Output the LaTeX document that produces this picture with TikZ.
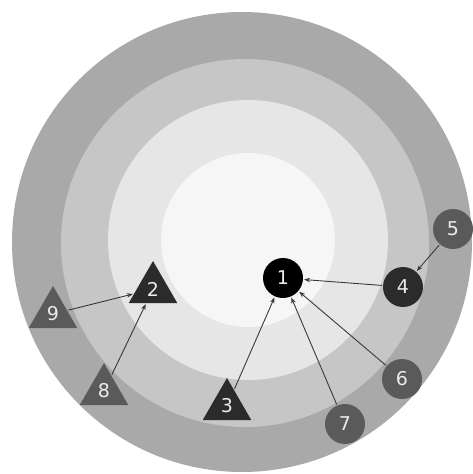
\documentclass[tikz,border=0pt]{standalone}
\usepackage{fontspec}
\setmainfont{DejaVu Sans}
\usetikzlibrary{shapes.geometric,arrows.meta}
\definecolor{ringA}{HTML}{A9A9A9}
\definecolor{ringB}{HTML}{C6C6C6}
\definecolor{ringC}{HTML}{E6E6E6}
\definecolor{ringD}{HTML}{F6F6F6}
\definecolor{darknode}{HTML}{2B2B2B}
\definecolor{midnode}{HTML}{5A5A5A}
\definecolor{edgecol}{HTML}{3A3A3A}
\tikzset{
  lbl/.style={text=white!92!black, font=\fontsize{19}{19}\selectfont, inner sep=0pt},
  circnode/.style={lbl, circle, minimum size=40pt},
  trinode/.style={lbl, regular polygon, regular polygon sides=3, minimum size=56pt},
  conn/.style={draw=edgecol, line width=0.9pt, -{Stealth[length=6pt,width=4.5pt]}, shorten >=1pt, shorten <=1pt}
}
\begin{document}
\begin{tikzpicture}[x=1pt,y=-1pt]
\useasboundingbox (0,0) rectangle (473,474);
\fill[white] (0,0) rectangle (473,474);
\fill[ringA] (242,242) circle (230pt);
\fill[ringB] (245,243) circle (184pt);
\fill[ringC] (248,240) circle (140pt);
\fill[ringD] (248,240) circle (87pt);

\node[circnode, fill=black] (n1) at (283,278) {1};
\node[circnode, fill=darknode] (n4) at (403,287) {4};
\node[circnode, fill=midnode] (n5) at (453,229) {5};
\node[circnode, fill=midnode] (n6) at (402,379) {6};
\node[circnode, fill=midnode] (n7) at (345,424) {7};
\node[trinode, fill=darknode] (n2) at (153,289) {2};
\node[trinode, fill=darknode] (n3) at (227,406) {3};
\node[trinode, fill=midnode] (n9) at (53,314) {9};
\node[trinode, fill=midnode] (n8) at (104,391) {8};

\draw[conn] (n9) -- (n2);
\draw[conn] (n8) -- (n2);
\draw[conn] (n3) -- (n1);
\draw[conn] (n7) -- (n1);
\draw[conn] (n6) -- (n1);
\draw[conn] (n4) -- (n1);
\draw[conn] (n5) -- (n4);
\end{tikzpicture}
\end{document}
